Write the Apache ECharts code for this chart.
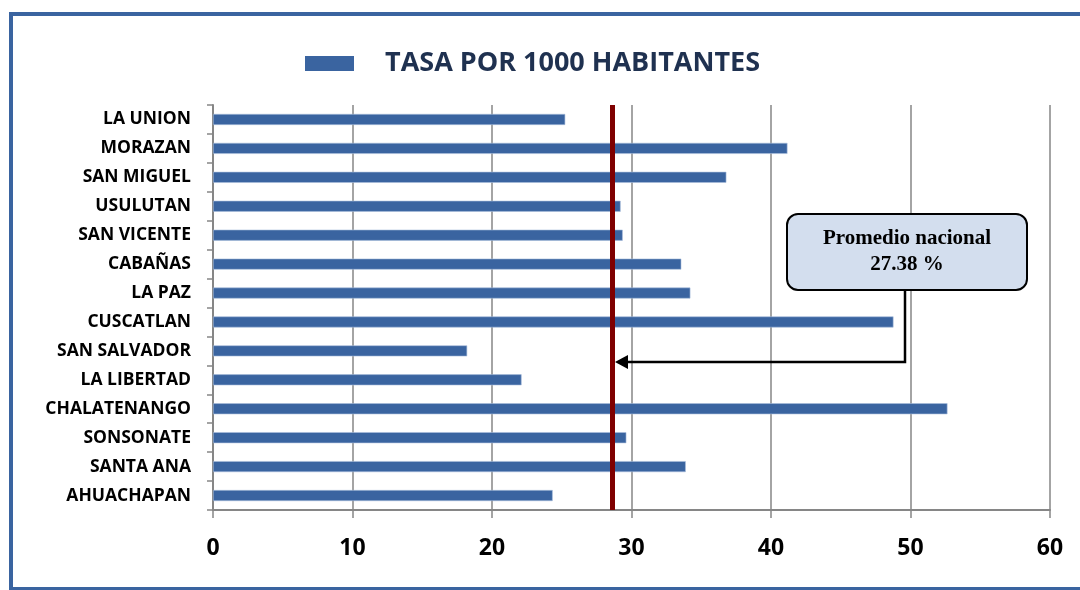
<!DOCTYPE html>
<html>
<head>
<meta charset="utf-8">
<script src="https://cdn.jsdelivr.net/npm/echarts@6/dist/echarts.min.js"></script>
<style>
html,body{margin:0;padding:0;background:#fff;}
#frame{position:absolute;left:9px;top:12px;width:1090px;height:571px;border:4px solid #3A64A0;box-sizing:content-box;}
#chart{position:absolute;left:0;top:0;width:1080px;height:590px;}
</style>
</head>
<body>
<div id="frame"></div>
<div id="chart"></div>
<script>
const categories = ['LA UNION','MORAZAN','SAN MIGUEL','USULUTAN','SAN VICENTE','CABAÑAS','LA PAZ','CUSCATLAN','SAN SALVADOR','LA LIBERTAD','CHALATENANGO','SONSONATE','SANTA ANA','AHUACHAPAN'];
const tasaValues = [25.25,41.18,36.80,29.22,29.37,33.57,34.22,48.78,18.22,22.12,52.65,29.63,33.89,24.35];
const seriesName = 'TASA POR 1000 HABITANTES';
const promedioLinePos = 28.6;
const promedioText = ['Promedio nacional','27.38 %'];
const xTicks = [0,10,20,30,40,50,60];

// ECharts draws category axis bottom-to-top; reverse so first is at top
const cats = categories.slice().reverse();
const vals = tasaValues.slice().reverse();

const chart = echarts.init(document.getElementById('chart'));
const option = {
  animation:false,
  legend:{
    data:[{name:seriesName,itemStyle:{borderWidth:0}}],
    left:300, top:45,
    itemWidth:49, itemHeight:15,
    icon:'rect',
    textStyle:{fontFamily:'Open Sans',fontWeight:'bold',fontSize:27,color:'#1F3150',padding:[0,0,0,26]}
  },
  grid:{left:213,right:30,top:105,bottom:80,containLabel:false},
  xAxis:{
    type:'value',min:xTicks[0],max:xTicks[xTicks.length-1],interval:10,
    axisLine:{show:true,lineStyle:{color:'#868686',width:2}},
    axisTick:{show:true,length:8,lineStyle:{color:'#868686',width:1.5}},
    splitLine:{show:true,lineStyle:{color:'#868686',width:1.5}},
    axisLabel:{margin:27,fontFamily:'Open Sans',fontWeight:'bold',fontSize:23,color:'#000'}
  },
  yAxis:{
    type:'category',data:cats,
    axisLine:{show:true,lineStyle:{color:'#868686',width:2}},
    axisTick:{show:true,length:6,lineStyle:{color:'#868686',width:1.5}},
    axisLabel:{margin:22,fontFamily:'Open Sans',fontWeight:'bold',fontSize:17.5,color:'#000'}
  },
  series:[{
    name:seriesName,type:'bar',data:vals,barWidth:11,
    itemStyle:{color:'#3A64A0',borderColor:'#A9BDDC',borderWidth:0.6},
    markLine:{
      silent:true,symbol:'none',
      label:{show:false},
      lineStyle:{color:'#7F0000',width:5,type:'solid'},
      data:[{xAxis:promedioLinePos}]
    }
  }]
};
chart.setOption(option);

// callout annotation
const lineX = chart.convertToPixel({xAxisIndex:0}, promedioLinePos);
const boxL=787, boxT=214, boxW=240, boxH=76;
const elbowX=905, arrowY=362;
chart.setOption({
  graphic:[
    {type:'rect',shape:{x:boxL,y:boxT,width:boxW,height:boxH,r:11},
     style:{fill:'#D3DEEE',stroke:'#000',lineWidth:2},z:100},
    {type:'text',x:boxL+boxW/2,y:boxT+boxH/2,
     style:{text:promedioText.join('\n'),fill:'#000',font:'bold 21px "Liberation Serif"',align:'center',verticalAlign:'middle',lineHeight:26},z:101},
    {type:'polyline',shape:{points:[[elbowX,boxT+boxH],[elbowX,arrowY],[lineX+16,arrowY]]},
     style:{stroke:'#000',lineWidth:2.5,fill:null},z:100},
    {type:'polygon',shape:{points:[[lineX+3,arrowY],[lineX+16,arrowY-7],[lineX+16,arrowY+7]]},
     style:{fill:'#000'},z:100}
  ]
});
</script>
</body>
</html>
